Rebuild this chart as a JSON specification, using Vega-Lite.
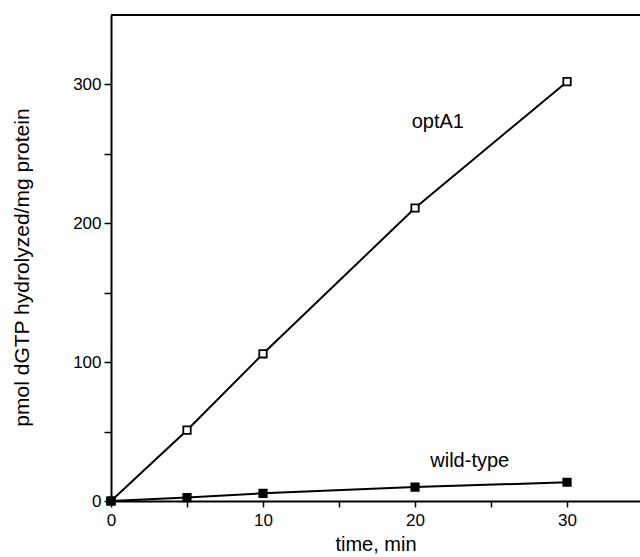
{
  "$schema": "https://vega.github.io/schema/vega-lite/v6.json",
  "autosize": {"type": "none"},
  "padding": {"left": 111, "top": 15, "right": 0, "bottom": 56},
  "width": 529,
  "height": 486,
  "background": "white",
  "config": {
    "view": {"stroke": null},
    "font": "Liberation Sans"
  },
  "datasets": {
    "series": [
      {"time": 0, "value": 0, "strain": "optA1"},
      {"time": 5, "value": 51, "strain": "optA1"},
      {"time": 10, "value": 106, "strain": "optA1"},
      {"time": 20, "value": 211, "strain": "optA1"},
      {"time": 30, "value": 302, "strain": "optA1"},
      {"time": 0, "value": 0, "strain": "wild-type"},
      {"time": 5, "value": 2.5, "strain": "wild-type"},
      {"time": 10, "value": 5.5, "strain": "wild-type"},
      {"time": 20, "value": 10, "strain": "wild-type"},
      {"time": 30, "value": 13.5, "strain": "wild-type"}
    ],
    "labels": [
      {"time": 21.5, "value": 273, "text": "optA1"},
      {"time": 23.6, "value": 29, "text": "wild-type"}
    ]
  },
  "layer": [
    {
      "data": {"values": [{"top": 350}]},
      "mark": {"type": "rule", "color": "black", "strokeWidth": 2},
      "encoding": {"y": {"field": "top", "type": "quantitative"}}
    },
    {
      "data": {"name": "series"},
      "mark": {"type": "line", "color": "black", "strokeWidth": 2},
      "encoding": {
        "x": {
          "field": "time", "type": "quantitative",
          "scale": {"domain": [0, 34.8], "nice": false},
          "axis": {
            "title": "time, min",
            "values": [0, 5, 10, 15, 20, 25, 30],
            "labelExpr": "datum.value % 10 == 0 ? datum.label : ''",
            "grid": false,
            "domainColor": "black", "domainWidth": 2,
            "tickColor": "black", "tickWidth": 1.5, "tickSize": 6,
            "labelFontSize": 17, "labelColor": "black", "labelPadding": 5,
            "titleFontSize": 20, "titleFontWeight": "normal", "titleColor": "black", "titlePadding": 6,
            "labelFlush": false
          }
        },
        "y": {
          "field": "value", "type": "quantitative",
          "scale": {"domain": [0, 350], "nice": false},
          "axis": {
            "title": "pmol dGTP hydrolyzed/mg protein",
            "values": [0, 50, 100, 150, 200, 250, 300],
            "labelExpr": "datum.value % 100 == 0 ? datum.label : ''",
            "grid": false,
            "domainColor": "black", "domainWidth": 2,
            "tickColor": "black", "tickWidth": 1.5, "tickSize": 7,
            "labelFontSize": 17, "labelColor": "black", "labelPadding": 3,
            "titleFontSize": 21, "titleFontWeight": "normal", "titleColor": "black", "titlePadding": 40,
            "titleY": 252,
            "labelFlush": false
          }
        },
        "detail": {"field": "strain"}
      }
    },
    {
      "data": {"name": "series"},
      "mark": {"type": "point", "shape": "square", "size": 55, "strokeWidth": 1.8, "opacity": 1, "color": "black"},
      "encoding": {
        "x": {"field": "time", "type": "quantitative"},
        "y": {"field": "value", "type": "quantitative"},
        "fill": {
          "field": "strain", "type": "nominal",
          "scale": {"domain": ["optA1", "wild-type"], "range": ["white", "black"]},
          "legend": null
        }
      }
    },
    {
      "data": {"name": "labels"},
      "mark": {"type": "text", "fontSize": 20, "color": "black", "align": "center", "baseline": "middle"},
      "encoding": {
        "x": {"field": "time", "type": "quantitative"},
        "y": {"field": "value", "type": "quantitative"},
        "text": {"field": "text"}
      }
    }
  ]
}
